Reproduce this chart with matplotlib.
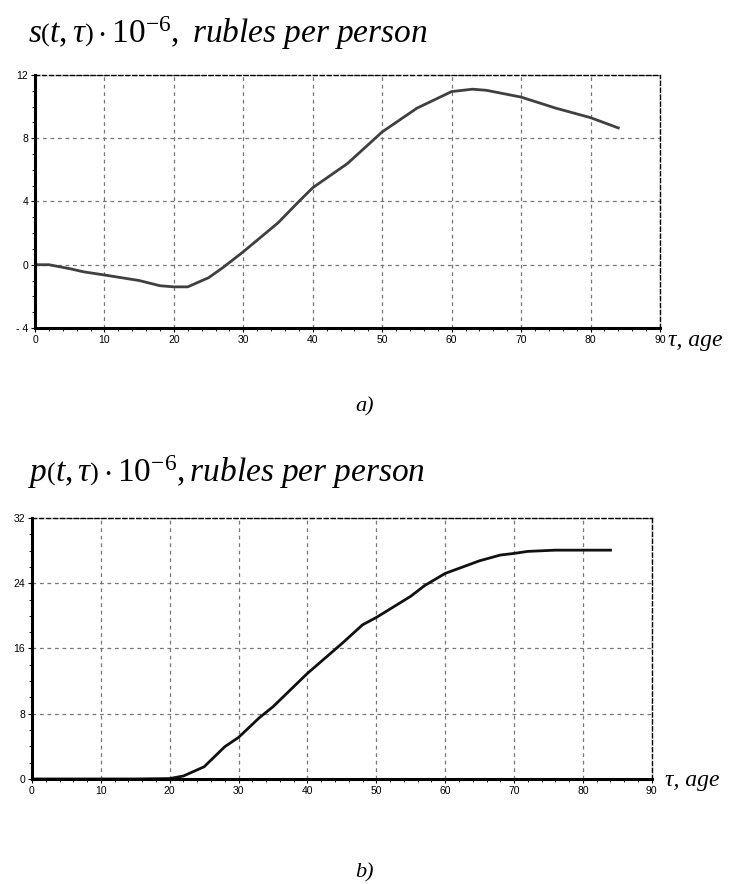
import numpy as np
import matplotlib
matplotlib.use("Agg")
import matplotlib.pyplot as plt
from matplotlib.ticker import MultipleLocator

plt.rcParams['mathtext.fontset'] = 'custom'
plt.rcParams['mathtext.rm'] = 'Liberation Serif'
plt.rcParams['mathtext.it'] = 'Liberation Serif:italic'
plt.rcParams['font.family'] = 'Liberation Sans'

# s(t, tau): savings by age
age_s = [0, 2, 5, 7, 10, 15, 18, 20, 22, 25, 27, 30, 35, 38, 40, 45, 48,
         50, 55, 60, 63, 65, 70, 75, 80, 84]
s_val = [0.0, 0.0, -0.25, -0.45, -0.65, -1.0, -1.33, -1.4, -1.4, -0.82, -0.2,
         0.82, 2.65, 4.0, 4.87, 6.4, 7.6, 8.4, 9.9, 10.95, 11.1, 11.03, 10.6,
         9.9, 9.3, 8.65]

# p(t, tau): pension rights by age
age_p = [0, 5, 10, 15, 20, 22, 25, 28, 30, 33, 35, 40, 45, 48, 50, 55, 57,
         60, 65, 68, 70, 72, 76, 84]
p_val = [0.0, 0.0, 0.0, 0.0, 0.05, 0.37, 1.5, 3.96, 5.1, 7.5, 8.86, 12.95,
         16.6, 18.9, 19.8, 22.4, 23.7, 25.2, 26.75, 27.45, 27.65, 27.9, 28.05,
         28.05]

s_ticks = [-4, 0, 4, 8, 12]
s_labels = ['- 4', '0', '4', '8', '12']
p_ticks = [0, 8, 16, 24, 32]
x_ticks = [0, 10, 20, 30, 40, 50, 60, 70, 80, 90]

fig = plt.figure(figsize=(7.37, 8.84), dpi=100)


def style(ax, yticks, ylabels, yminor):
    ax.set_xlim(0, 90)
    ax.set_xticks(x_ticks)
    ax.set_yticks(yticks)
    ax.set_yticklabels(ylabels)
    ax.xaxis.set_minor_locator(MultipleLocator(2))
    ax.yaxis.set_minor_locator(MultipleLocator(yminor))
    ax.grid(True, which='major', linestyle=(0, (3, 3)), color='#777777', linewidth=0.9)
    ax.tick_params(which='major', length=3, width=0.8, labelsize=7.5, pad=2, direction='out')
    ax.tick_params(which='minor', length=2, width=0.6)
    for side in ['left', 'bottom']:
        ax.spines[side].set_linewidth(2.2)
    for side in ['top', 'right']:
        ax.spines[side].set_linewidth(1.0)
        ax.spines[side].set_linestyle((0, (3, 2)))


ax1 = fig.add_axes([0.0475, 0.629, 0.848, 0.2862])
ax1.plot(age_s, s_val, color='#404040', linewidth=2)
ax1.set_ylim(-4, 12)
style(ax1, s_ticks, s_labels, 1)

ax2 = fig.add_axes([0.0434, 0.1188, 0.841, 0.2953])
ax2.plot(age_p, p_val, color='#111111', linewidth=2)
ax2.set_ylim(0, 32)
style(ax2, p_ticks, [str(v) for v in p_ticks], 2)

fig.text(0.038, 0.962, r"$s\left(t,\tau\right)\cdot10^{-6},\ \mathit{rubles\ per\ person}$",
         fontsize=24, va='center', ha='left')
fig.text(0.038, 0.466, r"$p\left(t,\tau\right)\cdot10^{-6},\mathit{rubles\ per\ person}$",
         fontsize=24, va='center', ha='left')

fig.text(0.907, 0.615, "τ, age", family='Liberation Serif', style='italic',
         fontsize=17, ha='left', va='center')
fig.text(0.902, 0.117, "τ, age", family='Liberation Serif', style='italic',
         fontsize=17, ha='left', va='center')

fig.text(0.495, 0.54, "a)", family='Liberation Serif', style='italic',
         fontsize=16, ha='center', va='center')
fig.text(0.495, 0.013, "b)", family='Liberation Serif', style='italic',
         fontsize=16, ha='center', va='center')

fig.savefig("out.png", dpi=100)
